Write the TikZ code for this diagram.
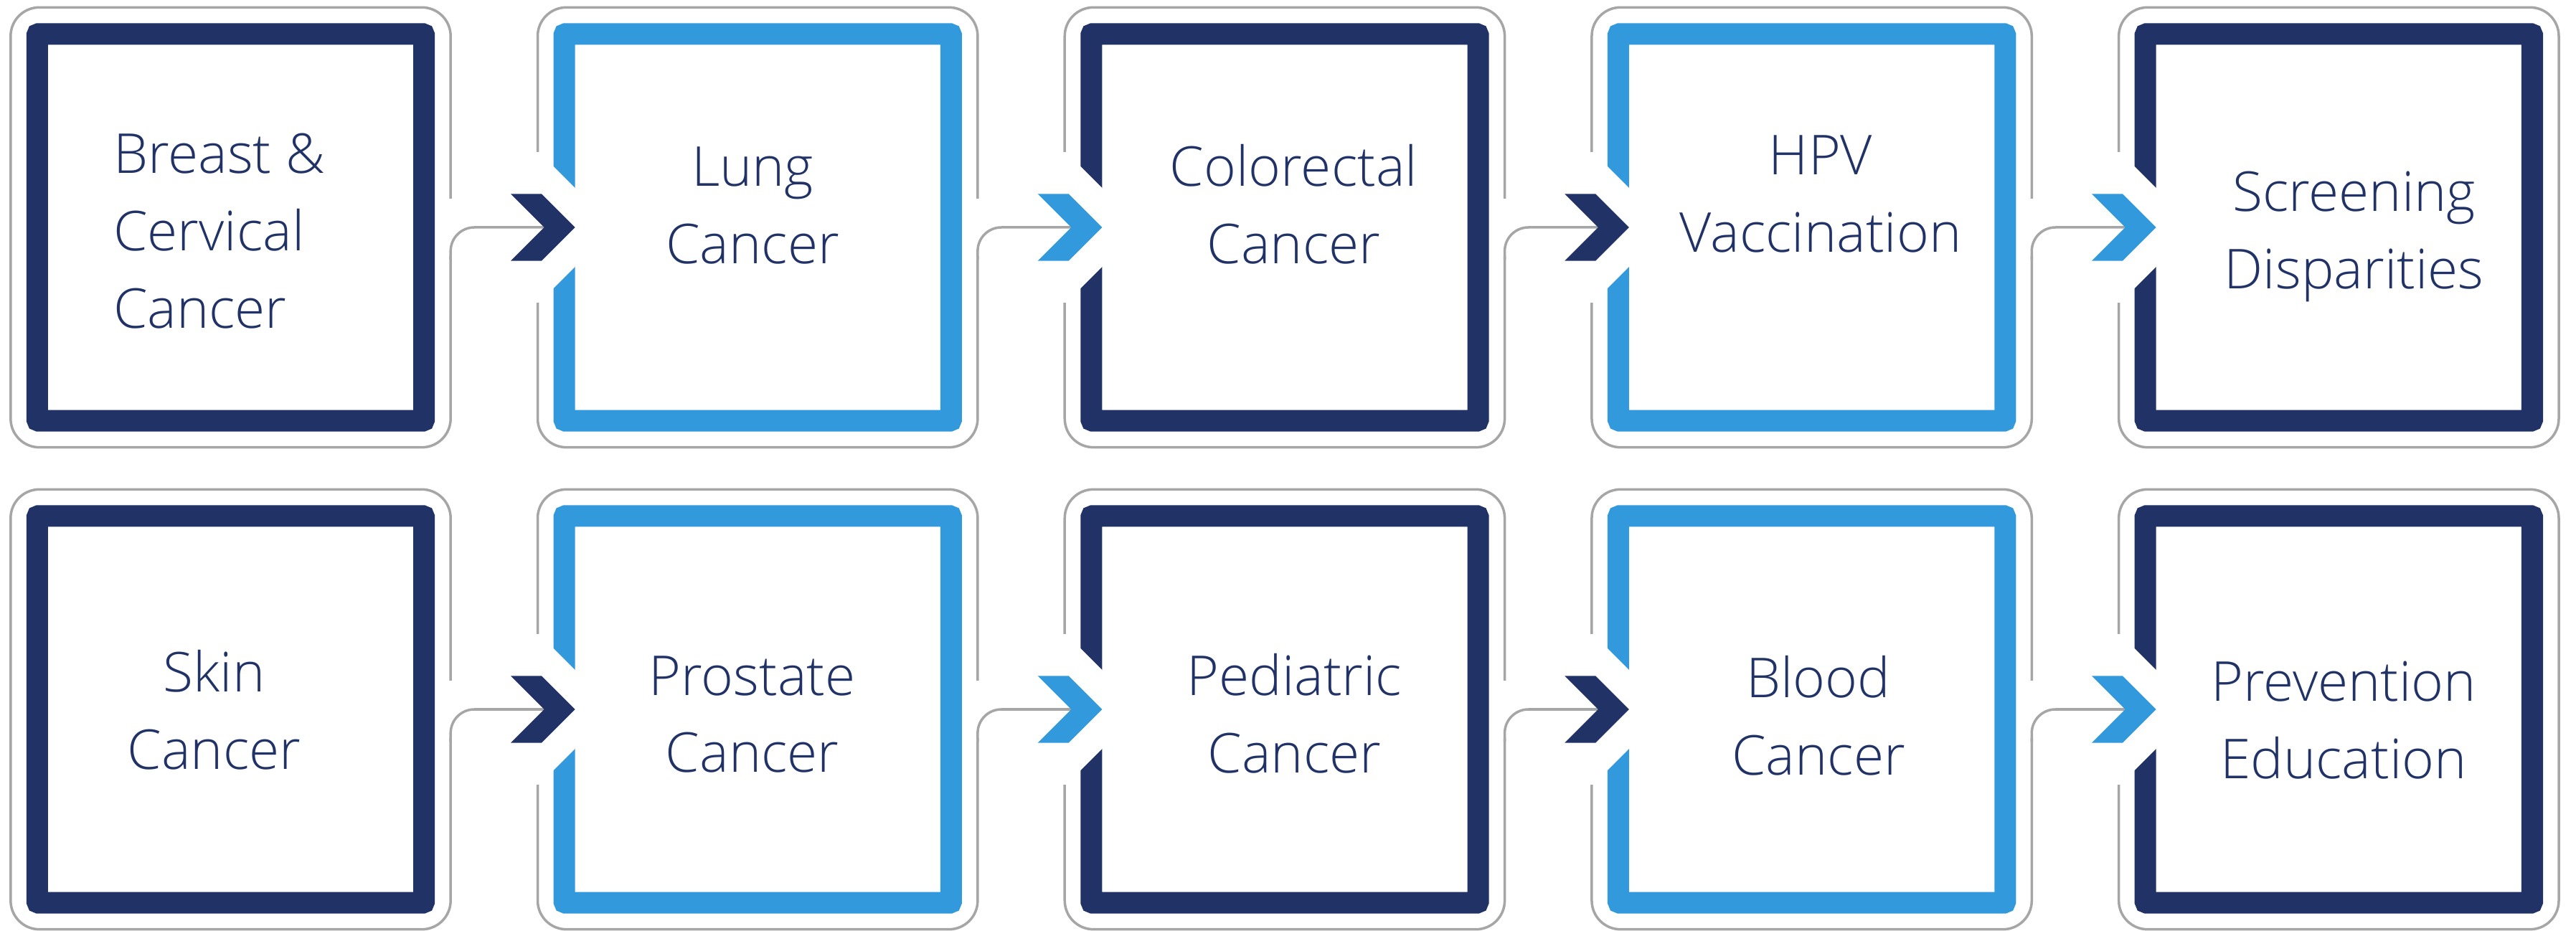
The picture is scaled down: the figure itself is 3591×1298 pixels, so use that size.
\documentclass[tikz,border=0pt]{standalone}
\usepackage{fontspec}
\IfFontExistsTF{Open Sans Light}{\setmainfont{Open Sans Light}}{\setmainfont{Open Sans}}
\usetikzlibrary{calc}
\definecolor{cnavy}{HTML}{203266}
\definecolor{csky}{HTML}{3399DD}
\definecolor{cgrey}{HTML}{A6A6A6}

\begin{document}
\begin{tikzpicture}[x=0.01cm,y=-0.01cm]
\tikzstyle{every node}+=[inner sep=0pt, outer sep=0pt]
\tikzstyle{boxhalo}=[draw=cgrey, line width=0.035cm, rounded corners=0.4cm, minimum size=6.13cm]
\tikzstyle{boxframe}=[line width=0.3cm, rounded corners=0.02cm, minimum size=5.39cm]
\tikzstyle{darkframe}=[boxframe, draw=cnavy]
\tikzstyle{lightframe}=[boxframe, draw=csky]
\tikzstyle{boxtext}=[text=cnavy, align=center, font=\fontsize{21.8}{30.7}\selectfont]
\tikzstyle{linkline}=[draw=cgrey, line width=0.035cm, rounded corners=0.33cm]
\tikzstyle{gapcut}=[fill=white]
\useasboundingbox (0,0) rectangle (3591,1298);
% grey outlines
\node[boxhalo] (hbreast) at (321.5,317) {};
\node[boxhalo] (hlung) at (1056.2,317) {};
\node[boxhalo] (hcolo) at (1790.9,317) {};
\node[boxhalo] (hhpv) at (2525.6,317) {};
\node[boxhalo] (hscreen) at (3260.3,317) {};
\node[boxhalo] (hskin) at (321.5,989) {};
\node[boxhalo] (hprost) at (1056.2,989) {};
\node[boxhalo] (hpedi) at (1790.9,989) {};
\node[boxhalo] (hblood) at (2525.6,989) {};
\node[boxhalo] (hprev) at (3260.3,989) {};
% openings in the grey outlines
\fill[gapcut] ($(hbreast.east)+(-8,-40)$) rectangle ($(hbreast.east)+(8,40)$);
\fill[gapcut] ($(hlung.east)+(-8,-40)$) rectangle ($(hlung.east)+(8,40)$);
\fill[gapcut] ($(hcolo.east)+(-8,-40)$) rectangle ($(hcolo.east)+(8,40)$);
\fill[gapcut] ($(hhpv.east)+(-8,-40)$) rectangle ($(hhpv.east)+(8,40)$);
\fill[gapcut] ($(hskin.east)+(-8,-40)$) rectangle ($(hskin.east)+(8,40)$);
\fill[gapcut] ($(hprost.east)+(-8,-40)$) rectangle ($(hprost.east)+(8,40)$);
\fill[gapcut] ($(hpedi.east)+(-8,-40)$) rectangle ($(hpedi.east)+(8,40)$);
\fill[gapcut] ($(hblood.east)+(-8,-40)$) rectangle ($(hblood.east)+(8,40)$);
\fill[gapcut] ($(hlung.west)+(-8,-105)$) rectangle ($(hlung.west)+(8,105)$);
\fill[gapcut] ($(hcolo.west)+(-8,-105)$) rectangle ($(hcolo.west)+(8,105)$);
\fill[gapcut] ($(hhpv.west)+(-8,-105)$) rectangle ($(hhpv.west)+(8,105)$);
\fill[gapcut] ($(hscreen.west)+(-8,-105)$) rectangle ($(hscreen.west)+(8,105)$);
\fill[gapcut] ($(hprost.west)+(-8,-105)$) rectangle ($(hprost.west)+(8,105)$);
\fill[gapcut] ($(hpedi.west)+(-8,-105)$) rectangle ($(hpedi.west)+(8,105)$);
\fill[gapcut] ($(hblood.west)+(-8,-105)$) rectangle ($(hblood.west)+(8,105)$);
\fill[gapcut] ($(hprev.west)+(-8,-105)$) rectangle ($(hprev.west)+(8,105)$);
% frames
\node[darkframe] (breast) at (321.5,317) {};
\node[lightframe] (lung) at (1056.2,317) {};
\node[darkframe] (colo) at (1790.9,317) {};
\node[lightframe] (hpv) at (2525.6,317) {};
\node[darkframe] (screen) at (3260.3,317) {};
\node[darkframe] (skin) at (321.5,989) {};
\node[lightframe] (prost) at (1056.2,989) {};
\node[darkframe] (pedi) at (1790.9,989) {};
\node[lightframe] (blood) at (2525.6,989) {};
\node[darkframe] (prev) at (3260.3,989) {};
% notches of the chevrons
\coordinate (nlung) at ($(lung.west)+(-28,0)$);
\coordinate (ncolo) at ($(colo.west)+(-28,0)$);
\coordinate (nhpv) at ($(hpv.west)+(-28,0)$);
\coordinate (nscreen) at ($(screen.west)+(-28,0)$);
\coordinate (nprost) at ($(prost.west)+(-28,0)$);
\coordinate (npedi) at ($(pedi.west)+(-28,0)$);
\coordinate (nblood) at ($(blood.west)+(-28,0)$);
\coordinate (nprev) at ($(prev.west)+(-28,0)$);
% connectors
\draw[linkline] ($(hbreast.east)+(0,45)$) -- (hbreast.east) -- (nlung);
\draw[linkline] ($(hlung.east)+(0,45)$) -- (hlung.east) -- (ncolo);
\draw[linkline] ($(hcolo.east)+(0,45)$) -- (hcolo.east) -- (nhpv);
\draw[linkline] ($(hhpv.east)+(0,45)$) -- (hhpv.east) -- (nscreen);
\draw[linkline] ($(hskin.east)+(0,45)$) -- (hskin.east) -- (nprost);
\draw[linkline] ($(hprost.east)+(0,45)$) -- (hprost.east) -- (npedi);
\draw[linkline] ($(hpedi.east)+(0,45)$) -- (hpedi.east) -- (nblood);
\draw[linkline] ($(hblood.east)+(0,45)$) -- (hblood.east) -- (nprev);
% openings in the frames
\fill[gapcut, shift={(lung.west)}] (-17,-87) -- (17,-53) -- (17,53) -- (-17,87) -- cycle;
\fill[gapcut, shift={(colo.west)}] (-17,-87) -- (17,-53) -- (17,53) -- (-17,87) -- cycle;
\fill[gapcut, shift={(hpv.west)}] (-17,-87) -- (17,-53) -- (17,53) -- (-17,87) -- cycle;
\fill[gapcut, shift={(screen.west)}] (-17,-87) -- (17,-53) -- (17,53) -- (-17,87) -- cycle;
\fill[gapcut, shift={(prost.west)}] (-17,-87) -- (17,-53) -- (17,53) -- (-17,87) -- cycle;
\fill[gapcut, shift={(pedi.west)}] (-17,-87) -- (17,-53) -- (17,53) -- (-17,87) -- cycle;
\fill[gapcut, shift={(blood.west)}] (-17,-87) -- (17,-53) -- (17,53) -- (-17,87) -- cycle;
\fill[gapcut, shift={(prev.west)}] (-17,-87) -- (17,-53) -- (17,53) -- (-17,87) -- cycle;
% chevrons
\fill[cnavy, shift={(lung.west)}] (-74.6,-46.6) -- (-31.6,-46.6) -- (15,0) -- (-31.6,46.6) -- (-74.6,46.6) -- (-28,0) -- cycle;
\fill[csky, shift={(colo.west)}] (-74.6,-46.6) -- (-31.6,-46.6) -- (15,0) -- (-31.6,46.6) -- (-74.6,46.6) -- (-28,0) -- cycle;
\fill[cnavy, shift={(hpv.west)}] (-74.6,-46.6) -- (-31.6,-46.6) -- (15,0) -- (-31.6,46.6) -- (-74.6,46.6) -- (-28,0) -- cycle;
\fill[csky, shift={(screen.west)}] (-74.6,-46.6) -- (-31.6,-46.6) -- (15,0) -- (-31.6,46.6) -- (-74.6,46.6) -- (-28,0) -- cycle;
\fill[cnavy, shift={(prost.west)}] (-74.6,-46.6) -- (-31.6,-46.6) -- (15,0) -- (-31.6,46.6) -- (-74.6,46.6) -- (-28,0) -- cycle;
\fill[csky, shift={(pedi.west)}] (-74.6,-46.6) -- (-31.6,-46.6) -- (15,0) -- (-31.6,46.6) -- (-74.6,46.6) -- (-28,0) -- cycle;
\fill[cnavy, shift={(blood.west)}] (-74.6,-46.6) -- (-31.6,-46.6) -- (15,0) -- (-31.6,46.6) -- (-74.6,46.6) -- (-28,0) -- cycle;
\fill[csky, shift={(prev.west)}] (-74.6,-46.6) -- (-31.6,-46.6) -- (15,0) -- (-31.6,46.6) -- (-74.6,46.6) -- (-28,0) -- cycle;
% texts
\node[boxtext, align=left, anchor=west] (tbreast) at (158,322) {Breast \&\\Cervical\\Cancer};
\node[boxtext] (tlung) at (1049,286.5) {Lung\\Cancer};
\node[boxtext] (tcolo) at (1803.5,285) {Colorectal\\Cancer};
\node[boxtext] (thpv) at (2538,271) {HPV\\Vaccination};
\node[boxtext] (tscreen) at (3281.5,330) {Screening\\Disparities};
\node[boxtext] (tskin) at (298.5,990) {Skin\\Cancer};
\node[boxtext] (tprost) at (1048.7,996) {Prostate\\Cancer};
\node[boxtext] (tpedi) at (1804.5,995) {Pediatric\\Cancer};
\node[boxtext] (tblood) at (2535,998) {Blood\\Cancer};
\node[boxtext] (tprev) at (3267,1004) {Prevention\\Education};
\end{tikzpicture}
\end{document}
